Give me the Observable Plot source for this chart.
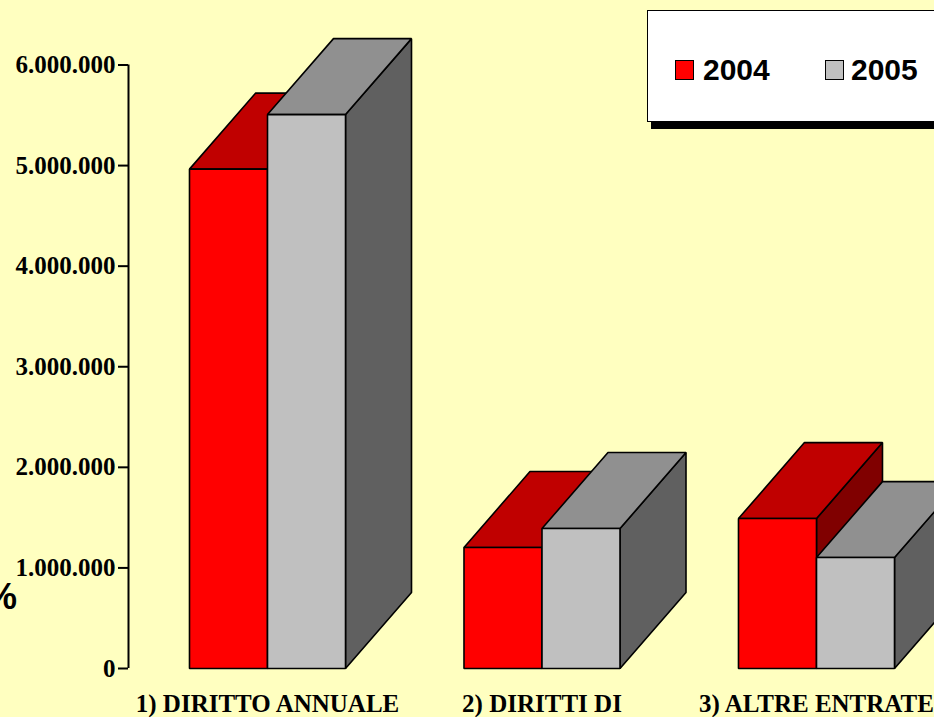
<!DOCTYPE html>
<html>
<head>
<meta charset="utf-8">
<script src="https://cdn.jsdelivr.net/npm/d3@7"></script>
<script src="https://cdn.jsdelivr.net/npm/@observablehq/plot@0.6"></script>
<style>
  html, body { margin: 0; padding: 0; background: #FFFFC0; }
  #wrap { position: relative; width: 934px; height: 717px; overflow: hidden; background: #FFFFC0; }
  #legend { position: absolute; left: 647px; top: 10px; width: 320px; height: 110px; background: #fff;
            border: 1.5px solid #000; box-shadow: 4px 7px 0 #000; }
  .sw { position: absolute; width: 17px; height: 18px; border: 1px solid #000; }
  .lt { position: absolute; font: bold 30px "Liberation Sans", Arial, sans-serif; line-height: 30px; color: #000; white-space: nowrap; }
  #pct { position: absolute; left: -15px; top: 579px; font: bold 36px "Liberation Sans", Arial, sans-serif; line-height: 36px; color: #000; }
</style>
</head>
<body>
<div id="wrap"></div>
<script>
// ---- data ----
const categories = ["1) DIRITTO ANNUALE", "2) DIRITTI DI", "3) ALTRE ENTRATE"];
const years = ["2004", "2005"];
const values2004 = [4965000, 1203000, 1491000];
const values2005 = [5507000, 1392000, 1103000];
const yTicks = [0, 1000000, 2000000, 3000000, 4000000, 5000000, 6000000];

// ---- styling / geometry ----
const colors = {
  "2004": {front: "#FF0000", top: "#C00000", side: "#800000"},
  "2005": {front: "#C0C0C0", top: "#909090", side: "#606060"}
};
const barW = 0.2842;      // bar width in category units
const depthX = 0.2404;    // 3D depth offset (category units)
const depthY = 755000;    // 3D depth offset (value units)
const xDomain = [-0.5064, 2.4299];
const serif = "'Liberation Serif', 'Times New Roman', serif";

const itFormat = d3.formatLocale({decimal: ",", thousands: ".", grouping: [3], currency: ["", "€"]}).format(",");

// build face polygons from the data
const faces = [];
function addBar(year, i, v, x0) {
  const x1 = x0 + barW;
  faces.push({year, face: "side", id: `${year}-${i}-side`, pts: [[x1, 0], [x1 + depthX, depthY], [x1 + depthX, v + depthY], [x1, v]]});
  faces.push({year, face: "top", id: `${year}-${i}-top`, pts: [[x0, v], [x1, v], [x1 + depthX, v + depthY], [x0 + depthX, v + depthY]]});
  faces.push({year, face: "front", id: `${year}-${i}-front`, pts: [[x0, 0], [x1, 0], [x1, v], [x0, v]]});
}
categories.forEach((c, i) => {
  addBar("2004", i, values2004[i], i - barW);
  addBar("2005", i, values2005[i], i);
});
function pointsOf(year, face) {
  return faces.filter(f => f.year === year && f.face === face)
    .flatMap(f => f.pts.map(([x, y]) => ({x, y, id: f.id})));
}
const faceMarks = [];
for (const year of years) {
  for (const face of ["side", "top", "front"]) {
    faceMarks.push(Plot.line(pointsOf(year, face), {
      x: "x", y: "y", z: "id", curve: "linear-closed",
      fill: colors[year][face], stroke: "#000", strokeWidth: 1.6, strokeLinejoin: "miter"
    }));
  }
}

const chart = Plot.plot({
  width: 934,
  height: 717,
  marginLeft: 128,
  marginRight: 0,
  marginTop: 0,
  marginBottom: 0,
  style: {background: "#FFFFC0", overflow: "visible"},
  x: {type: "linear", domain: xDomain, range: [128, 934], axis: null},
  y: {domain: [0, 6000000], range: [668, 64.5], axis: null},
  marks: [
    Plot.ruleX([xDomain[0]], {y1: 0, y2: 6000000, stroke: "#000", strokeWidth: 2}),
    Plot.axisY(yTicks, {
      anchor: "left", label: null, tickSize: 10, tickPadding: 3, tickFormat: itFormat,
      stroke: "#000", strokeWidth: 2, fill: "#000",
      fontSize: 25, fontWeight: "bold", fontFamily: serif
    }),
    ...faceMarks,
    Plot.text(categories, {
      x: (d, i) => i, y: 0, dy: 26, lineAnchor: "top", textAnchor: "middle",
      fontSize: 25, fontWeight: "bold", fill: "#000", fontFamily: serif
    })
  ]
});

const wrap = document.getElementById("wrap");
wrap.appendChild(chart);

// legend
const legend = document.createElement("div");
legend.id = "legend";
wrap.appendChild(legend);
const legendPos = [{sw: 675, tx: 703}, {sw: 825, tx: 851}];
years.forEach((y, k) => {
  const sw = document.createElement("div");
  sw.className = "sw";
  sw.style.left = legendPos[k].sw + "px";
  sw.style.top = "60px";
  sw.style.background = colors[y].front;
  wrap.appendChild(sw);
  const t = document.createElement("div");
  t.className = "lt";
  t.style.left = legendPos[k].tx + "px";
  t.style.top = "55px";
  t.textContent = y;
  wrap.appendChild(t);
});
const pct = document.createElement("div");
pct.id = "pct";
pct.textContent = "%";
wrap.appendChild(pct);
</script>
</body>
</html>
